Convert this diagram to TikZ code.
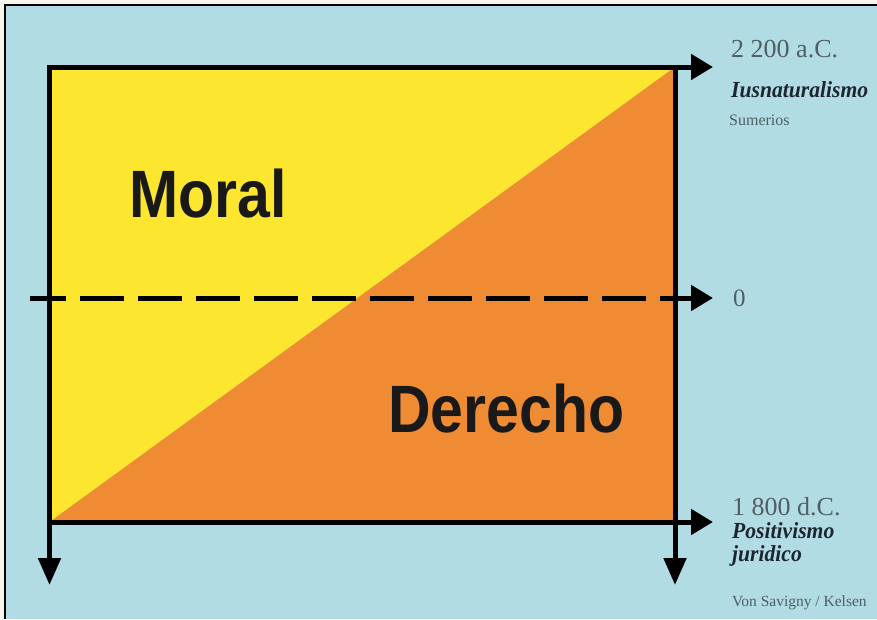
\documentclass[tikz,border=0pt]{standalone}
\usepackage{fontspec}
\setmainfont{Liberation Serif}
\newfontfamily\hdfont[FakeStretch=0.88]{Liberation Sans}
\newfontfamily\serifcond[FakeStretch=0.94]{Liberation Serif}
\usetikzlibrary{arrows.meta}
\definecolor{bgblue}{RGB}{178,220,228}
\definecolor{paper}{RGB}{246,246,238}
\definecolor{myyellow}{RGB}{252,230,48}
\definecolor{myorange}{RGB}{239,139,51}
\definecolor{greytxt}{RGB}{80,94,100}
\definecolor{darktxt}{RGB}{28,38,48}
\tikzset{
  axis/.style={line width=5pt, draw=black},
  vtip/.style={-{Triangle[length=27pt,width=22pt]}},
  htip/.style={-{Triangle[length=22pt,width=25pt]}},
  bigword/.style={anchor=base west, inner sep=0pt, text=black!90, font=\hdfont\bfseries\fontsize{67}{67}\selectfont},
  datetxt/.style={anchor=base west, inner sep=0pt, text=greytxt, font=\fontsize{26}{26}\selectfont},
  schooltxt/.style={anchor=base west, inner sep=0pt, text=darktxt, font=\serifcond\bfseries\itshape\fontsize{23}{23}\selectfont},
  smalltxt/.style={anchor=base west, inner sep=0pt, text=greytxt, font=\fontsize{16}{16}\selectfont},
}
\begin{document}
\begin{tikzpicture}[x=1pt,y=-1pt]
\useasboundingbox (0,0) rectangle (877,619);
\fill[paper] (0,0) rectangle (877,619);
\fill[bgblue] (5,5) rectangle (877,619);
\draw[line width=1.5pt] (5,619) -- (5,5) -- (877,5);
% corners
\coordinate (TL) at (49.5,67);
\coordinate (TR) at (675,67);
\coordinate (BL) at (49.5,522);
\coordinate (BR) at (675,522);
\coordinate (TRe) at (713,67);
\coordinate (BRe) at (713,522);
\coordinate (BLd) at (49.5,585);
\coordinate (BRd) at (675,585);
\coordinate (TRs) at (675,64.5);
\coordinate (BLs) at (47,522);
\coordinate (DL) at (30,298);
\coordinate (DR) at (713,298);
% fills
\fill[myyellow] (TL) -- (TR) -- (BL) -- cycle;
\fill[myorange] (TR) -- (BR) -- (BL) -- cycle;
% axes
\draw[axis, {Triangle[length=27pt,width=22pt]}-{Triangle[length=22pt,width=25pt]}] (BLd) -- (TL) -- (TRe);
\draw[axis, vtip] (TRs) -- (BRd);
\draw[axis, htip] (BLs) -- (BRe);
\draw[axis, htip, dash pattern=on 44pt off 14pt, dash phase=8pt] (DL) -- (DR);
% words
\node[bigword] (moral) at (129,217) {Moral};
\node[bigword] (derecho) at (388,432) {Derecho};
% right labels
\node[datetxt] (d1) at (731,57) {2 200 a.C.};
\node[schooltxt] (s1) at (731,97) {Iusnaturalismo};
\node[smalltxt] (p1) at (729,125) {Sumerios};
\node[datetxt, font=\fontsize{25}{25}\selectfont] (zero) at (733,306) {0};
\node[datetxt] (d2) at (732,515) {1 800 d.C.};
\node[schooltxt] (s2a) at (732,538) {Positivismo};
\node[schooltxt] (s2b) at (732,561) {juridico};
\node[smalltxt, font=\fontsize{15.5}{15.5}\selectfont] (p2) at (732,606) {Von Savigny / Kelsen};
\end{tikzpicture}
\end{document}
